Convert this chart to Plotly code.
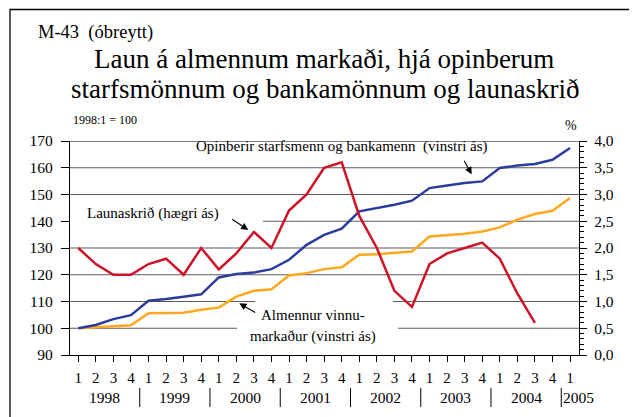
import plotly.graph_objects as go

# ---------------- data ----------------
years = ["1998", "1999", "2000", "2001", "2002", "2003", "2004", "2005"]
quarter_labels = ["1", "2", "3", "4"] * 7 + ["1"]

# Opinberir starfsmenn og bankamenn (vinstri ás), 1998:1 = 100
opinberir = [100.0, 101.2, 103.4, 104.9,
             110.3, 110.9, 111.8, 112.7,
             119.0, 120.3, 120.8, 122.1,
             125.6, 131.2, 134.9, 137.2,
             143.7, 144.9, 146.2, 147.7,
             152.4, 153.4, 154.3, 154.9,
             159.9, 160.8, 161.4, 163.0,
             167.4]

# Almennur vinnumarkaður (vinstri ás), 1998:1 = 100
almennur = [100.0, 100.3, 100.6, 101.1,
            105.6, 105.8, 105.8, 106.9,
            107.7, 111.8, 114.0, 114.6,
            119.7, 120.6, 122.1, 122.8,
            127.5, 127.7, 128.1, 128.7,
            134.3, 134.7, 135.3, 136.2,
            137.7, 140.6, 142.7, 143.9,
            148.7]

# Launaskrið (hægri ás), %
launaskrid = [2.0, 1.7, 1.5, 1.5,
              1.7, 1.8, 1.5, 2.0,
              1.6, 1.9, 2.3, 2.0,
              2.7, 3.0, 3.5, 3.6,
              2.6, 2.0, 1.2, 0.9,
              1.7, 1.9, 2.0, 2.1,
              1.8, 1.15, 0.6]

left_ticks = [90, 100, 110, 120, 130, 140, 150, 160, 170]
right_ticks = [0.0, 0.5, 1.0, 1.5, 2.0, 2.5, 3.0, 3.5, 4.0]

x_all = list(range(len(opinberir)))
x_red = list(range(len(launaskrid)))

# ---------------- geometry ----------------
# the page body has an 8px margin, so the figure is made 8px smaller
OFF = 8
W, H = 637 - OFF, 417 - OFF
PLOT_L, PLOT_R, PLOT_T, PLOT_B = 70, 579, 141, 355   # page pixel coords
L = PLOT_L - OFF
T = PLOT_T - OFF
R = W + OFF - PLOT_R
B = H + OFF - PLOT_B
PW = PLOT_R - PLOT_L
PH = PLOT_B - PLOT_T


def px(xp):
    return (xp - PLOT_L) / PW


def py(yp):
    return (PLOT_B - yp) / PH


FONT = "Liberation Serif, Times New Roman, serif"
BLUE = "#2B3C9C"
RED = "#CE1228"
ORANGE = "#FFA81E"
GRID = "#5a5a5a"

fig = go.Figure()
fig.add_trace(go.Scatter(x=x_all, y=almennur, mode="lines",
                         line=dict(color=ORANGE, width=2.5), yaxis="y"))
fig.add_trace(go.Scatter(x=x_all, y=opinberir, mode="lines",
                         line=dict(color=BLUE, width=2.5), yaxis="y"))
fig.add_trace(go.Scatter(x=x_red, y=launaskrid, mode="lines",
                         line=dict(color=RED, width=2.5), yaxis="y2"))

shapes = []
# gridlines (some interrupted behind labels)
grid_segments = {
    160: [(0, 1)],
    150: [(0, 1)],
    140: [(px(263), 1)],
    130: [(0, 1)],
    120: [(0, 1)],
    110: [(0, px(255)), (px(393), 1)],
    100: [(0, px(237)), (px(398), 1)],
}
for level, segs in grid_segments.items():
    for a, b in segs:
        shapes.append(dict(type="line", xref="paper", yref="y", x0=a, x1=b,
                           y0=level, y1=level, line=dict(color=GRID, width=1.2),
                           layer="below"))
# top border line at 170
shapes.append(dict(type="line", xref="paper", yref="y", x0=0, x1=1, y0=170, y1=170,
                   line=dict(color="black", width=1.2)))
# year separators
for k in range(len(years)):
    shapes.append(dict(type="line", xref="x", yref="paper", x0=4 * k - 0.5, x1=4 * k - 0.5,
                       y0=py(388), y1=py(407), line=dict(color="black", width=1)))
# outer frame
shapes.append(dict(type="rect", xref="paper", yref="paper",
                   x0=px(10), x1=px(633), y0=py(430), y1=py(9.5),
                   line=dict(color="black", width=1.3), fillcolor="rgba(0,0,0,0)"))

ann = []


def text(t, x, y, size, xanchor="center", yanchor="middle", xref="paper"):
    ann.append(dict(text=t, x=x, y=y, xref=xref, yref="paper", showarrow=False,
                    xanchor=xanchor, yanchor=yanchor,
                    font=dict(family=FONT, size=size, color="black")))


text("M-43\u00a0 (óbreytt)", px(36), py(32), 18.5, xanchor="left")
text("Laun á almennum markaði, hjá opinberum", px(324), py(59), 27)
text("starfsmönnum og bankamönnum og launaskrið", px(325), py(89.5), 27)
text("1998:1 = 100", px(71), py(119.5), 12, xanchor="left")
text("%", px(579), py(125), 14, xanchor="right")
text("Opinberir starfsmenn og bankamenn\u00a0 (vinstri ás)", px(341.7), py(146.6), 15)
text("Launaskrið (hægri ás)", px(152.7), py(213), 15)
text("Almennur vinnu-", px(312.5), py(315), 15)
text("markaður (vinstri ás)", px(313), py(336.5), 15)

# year labels
for k, yr in enumerate(years):
    if k < len(years) - 1:
        text(yr, 4 * k + 1.5, py(397), 15.5, xref="x")
    else:
        ann.append(dict(text=yr, x=4 * k - 0.5, y=py(397), xref="x", yref="paper",
                        showarrow=False, xanchor="left", yanchor="middle",
                        font=dict(family=FONT, size=15.5, color="black")))


def arrow(tail, tip):
    ann.append(dict(text="", x=px(tip[0]), y=py(tip[1]), xref="paper", yref="paper",
                    ax=tail[0] - tip[0], ay=tail[1] - tip[1], showarrow=True,
                    arrowhead=2, arrowsize=1.3, arrowwidth=1.1, arrowcolor="black",
                    standoff=0, startstandoff=0))


arrow((463.3, 159.3), (471.7, 174.3))
arrow((230.7, 218.3), (248.3, 230.0))
arrow((256.7, 313.3), (239.3, 303.3))

fig.update_layout(
    width=W, height=H,
    margin=dict(l=L, r=R, t=T, b=B, pad=0),
    paper_bgcolor="white", plot_bgcolor="white",
    showlegend=False,
    separators=", ",
    font=dict(family=FONT, color="black", size=15),
    xaxis=dict(range=[-0.47, 28.51], tickmode="array", tickvals=x_all,
               ticktext=quarter_labels, showgrid=False, zeroline=False,
               showline=True, linecolor="black", linewidth=1.2,
               ticks="outside", ticklen=6, tickcolor="black", tickwidth=1,
               tickfont=dict(family=FONT, size=15, color="black"),
               ticklabelstandoff=3),
    yaxis=dict(range=[90, 170], tickmode="array", tickvals=left_ticks,
               showgrid=False, zeroline=False,
               showline=True, linecolor="black", linewidth=1.2,
               ticks="outside", ticklen=8, tickcolor="black", tickwidth=1,
               tickfont=dict(family=FONT, size=15.5, color="black"),
               ticklabelstandoff=5),
    yaxis2=dict(range=[0, 4], overlaying="y", side="right", tickmode="array",
                tickvals=right_ticks, tickformat=".1f",
                showgrid=False, zeroline=False,
                showline=True, linecolor="black", linewidth=1.2,
                ticks="outside", ticklen=7, tickcolor="black", tickwidth=1,
                minor=dict(ticks="outside", ticklen=4, dtick=0.1, tickcolor="black",
                           showgrid=False),
                tickfont=dict(family=FONT, size=15.5, color="black"),
                ticklabelstandoff=4),
    shapes=shapes,
    annotations=ann,
)

fig.write_html("out.html")
